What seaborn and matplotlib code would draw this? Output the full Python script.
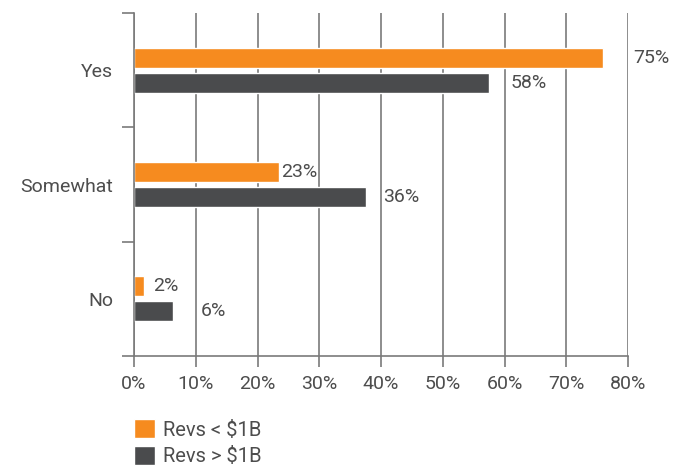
import matplotlib
matplotlib.use('Agg')
import matplotlib.pyplot as plt
from matplotlib.patches import Patch
import seaborn as sns
import pandas as pd

# data
answers = ['Yes', 'Somewhat', 'No']
groups = ['Revs < $1B', 'Revs > $1B']
revs_small = [76.0, 23.5, 1.6]   # Revs < $1B
revs_large = [57.5, 37.6, 6.3]   # Revs > $1B
labels_small = ['75%', '23%', '2%']
labels_large = ['58%', '36%', '6%']
xticks = [0, 10, 20, 30, 40, 50, 60, 70, 80]

orange = '#F68B1F'
gray = '#4A4B4D'
text_col = '#4D4D4D'
line_col = '#7A7A7A'

df = pd.DataFrame({
    'answer': answers * 2,
    'pct': revs_small + revs_large,
    'group': [groups[0]] * 3 + [groups[1]] * 3,
})

sns.set_style('white')
plt.rcParams['font.family'] = ['Roboto', 'DejaVu Sans']
plt.rcParams['text.color'] = text_col

fig = plt.figure(figsize=(6.84, 4.70), dpi=100)
ax = fig.add_axes([134/684, 1 - 356/470, (628-134)/684, (356-13)/470])

sns.barplot(data=df, y='answer', x='pct', hue='group', orient='h',
            palette=[orange, gray], width=0.44, gap=0.2,
            legend=False, saturation=1, ax=ax)

# value labels (offsets in points, as placed in the original)
pads = [[21.5, 1.5, 6.5], [15.5, 12, 20]]
for cont, labs, pad in zip(ax.containers, [labels_small, labels_large], pads):
    for bar, lab, p in zip(cont, labs, pad):
        ax.annotate(lab, (bar.get_width(), bar.get_y() + bar.get_height() / 2),
                    xytext=(p, 0), textcoords='offset points',
                    ha='left', va='center', fontsize=14, color=text_col,
                    annotation_clip=False)

ax.set_xlim(0, 80)
ax.set_ylim(2.5, -0.5)
ax.set_xticks(xticks)
ax.set_xticklabels([f'{v}%' for v in xticks])
ax.set_yticks(range(len(answers)))
ax.set_yticklabels(answers)
ax.set_yticks([-0.5, 0.5, 1.5, 2.5], minor=True)
ax.set_xlabel('')
ax.set_ylabel('')

ax.tick_params(axis='y', which='both', left=True)
ax.tick_params(axis='y', which='major', length=0, pad=15, labelsize=14, labelcolor=text_col)
ax.tick_params(axis='y', which='minor', length=8.6, width=1.2, color=line_col)
ax.tick_params(axis='x', bottom=True, length=8, width=1.2, color=line_col, pad=6,
               labelsize=14, labelcolor=text_col)

ax.xaxis.grid(True, color=line_col, linewidth=1.2)
ax.set_axisbelow(True)
for s in ['top', 'right']:
    ax.spines[s].set_visible(False)
for s in ['left', 'bottom']:
    ax.spines[s].set_color(line_col)
    ax.spines[s].set_linewidth(1.2)

handles = [Patch(facecolor=orange), Patch(facecolor=gray)]
fig.legend(handles, groups, loc='upper left',
           bbox_to_anchor=(134/684, 1 - 419/470), frameon=False,
           fontsize=14.5, handlelength=1.05, handleheight=1.1,
           handletextpad=0.4, labelspacing=0.3, borderpad=0,
           borderaxespad=0, labelcolor=text_col)

fig.savefig('out.png', dpi=100)
